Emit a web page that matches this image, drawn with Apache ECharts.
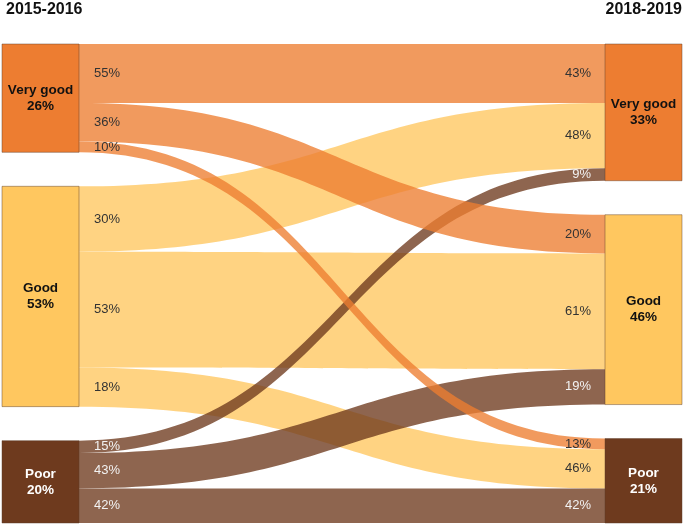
<!DOCTYPE html>
<html><head><meta charset="utf-8">
<script src="https://cdn.jsdelivr.net/npm/echarts@6/dist/echarts.min.js"></script>
<style>html,body{margin:0;padding:0;background:#fff}#c{width:685px;height:526px}</style>
</head><body><div id="c"></div>
<script>
const periods = ['2015-2016', '2018-2019'];
const categories = ['Very good', 'Good', 'Poor'];
const startShare = [26, 53, 20];
const endShare = [33, 46, 21];
const linkSource = [0, 0, 0, 1, 1, 1, 2, 2, 2];
const linkTarget = [0, 1, 2, 0, 1, 2, 0, 1, 2];
const linkValues = [14.3, 9.4, 2.6, 15.9, 28.1, 9.5, 3.0, 8.6, 8.4];
const fromPct = [55, 36, 10, 30, 53, 18, 15, 43, 42];
const toPct = [43, 20, 13, 48, 61, 46, 9, 19, 42];
// drawing order: good links underneath, then poor, very-good links on top
const drawOrder = [3, 4, 5, 6, 7, 8, 0, 1, 2];

const nodeColors = ['#ED7D31', '#FFC75F', '#6E3A1E'];
const nodeText = ['#111', '#111', '#fff'];
const linkText = ['#333', '#333', '#f2f2f2'];

const nodes = [];
categories.forEach((c, i) => nodes.push({
  name: 'L' + i, depth: 0,
  itemStyle: { color: nodeColors[i] },
  label: { formatter: c + '\n' + startShare[i] + '%', color: nodeText[i] }
}));
categories.forEach((c, i) => nodes.push({
  name: 'R' + i, depth: 1,
  itemStyle: { color: nodeColors[i] },
  label: { formatter: c + '\n' + endShare[i] + '%', color: nodeText[i] }
}));
const links = drawOrder.map(i => ({
  source: 'L' + linkSource[i], target: 'R' + linkTarget[i], value: linkValues[i],
  lineStyle: { color: nodeColors[linkSource[i]], opacity: 0.78 }
}));

const chart = echarts.init(document.getElementById('c'), null, { renderer: 'canvas' });
chart.setOption({
  animation: false,
  graphic: [
    { type: 'text', left: 6, top: 2, style: { text: periods[0], font: 'bold 16px "Liberation Sans", Arial, sans-serif', fill: '#111' } },
    { type: 'text', right: 3, top: 2, style: { text: periods[1], font: 'bold 16px "Liberation Sans", Arial, sans-serif', fill: '#111' } }
  ],
  series: [{
    type: 'sankey',
    left: 2, right: 3, top: 44, bottom: 3,
    nodeWidth: 77, nodeGap: 34, layoutIterations: 0,
    draggable: false,
    emphasis: { disabled: true },
    data: nodes, links: links,
    itemStyle: { borderColor: 'rgba(90,60,40,0.45)', borderWidth: 1 },
    lineStyle: { curveness: 0.5 },
    label: {
      show: true, position: 'inside', fontWeight: 'bold', fontSize: 13.5, lineHeight: 16,
      fontFamily: '"Liberation Sans", Arial, sans-serif', align: 'center'
    }
  }]
});

const sm = chart.getModel().getSeriesByIndex(0);
const graph = sm.getGraph();
const li = sm.layoutInfo || { x: 2, y: 44 };
const extra = [];
graph.eachEdge(function (edge) {
  const i = drawOrder[edge.dataIndex];
  const el = edge.getLayout();
  const n1 = edge.node1.getLayout();
  const n2 = edge.node2.getLayout();
  const col = linkText[linkSource[i]];
  const font = '13px "Liberation Sans", Arial, sans-serif';
  extra.push({
    type: 'text', z: 100,
    x: li.x + n1.x + n1.dx + 15, y: li.y + n1.y + el.sy + el.dy / 2,
    style: { text: fromPct[i] + '%', fill: col, font: font, align: 'left', verticalAlign: 'middle', textAlign: 'left', textVerticalAlign: 'middle' }
  });
  extra.push({
    type: 'text', z: 100,
    x: li.x + n2.x - 14, y: li.y + n2.y + el.ty + el.dy / 2,
    style: { text: toPct[i] + '%', fill: col, font: font, align: 'right', verticalAlign: 'middle', textAlign: 'right', textVerticalAlign: 'middle' }
  });
});
chart.setOption({ graphic: extra.map((e, k) => Object.assign({ id: 'lbl' + k }, e)) });
</script></body></html>
